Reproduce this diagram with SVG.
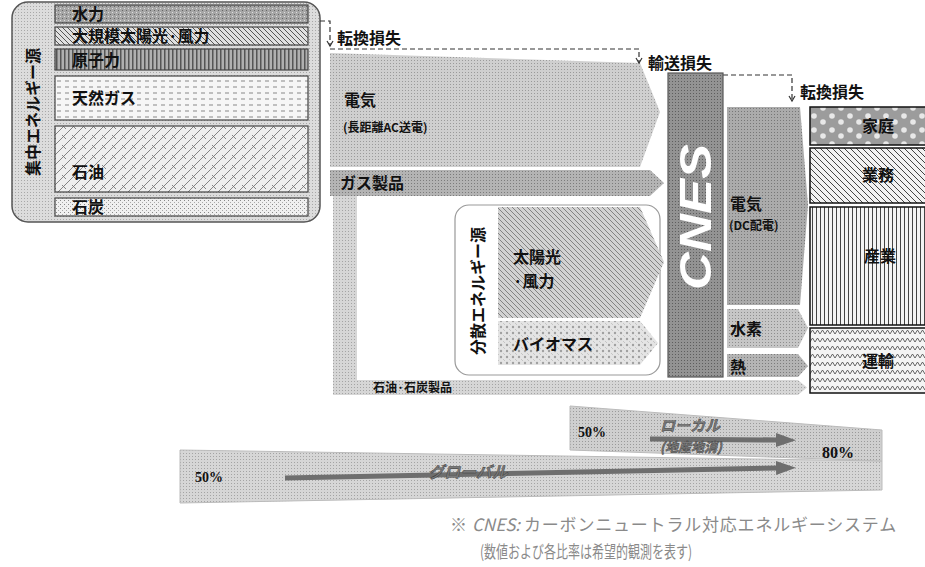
<svg xmlns="http://www.w3.org/2000/svg" width="925" height="567" viewBox="0 0 925 567">
<style>
.lbl{font-family:"Noto Sans CJK JP","Liberation Sans",sans-serif;font-size:16px;font-weight:bold;fill:#111;}
.sm{font-family:"Noto Sans CJK JP","Liberation Sans",sans-serif;font-size:12px;font-weight:bold;fill:#111;}
.bar{stroke:#444;stroke-width:1.2;}
.dash{fill:none;stroke:#333;stroke-width:1.2;stroke-dasharray:5 3;}
.pct{font-family:"Liberation Serif",serif;font-weight:bold;fill:#111;}
.ital{font-family:"Noto Sans CJK JP","Liberation Sans",sans-serif;font-style:italic;font-weight:bold;fill:#7a7a7a;stroke:#333;stroke-width:0.4;}
.foot{font-family:"Noto Sans CJK JP","Liberation Sans",sans-serif;font-size:17px;fill:#8a8a8a;}
</style>
<defs>
<pattern id="htL" width="3" height="3" patternUnits="userSpaceOnUse"><rect width="3" height="3" fill="#dcdcdc"/><rect width="1" height="1" fill="#a8a8a8"/></pattern>
<pattern id="htAC" width="3" height="3" patternUnits="userSpaceOnUse"><rect width="3" height="3" fill="#cfcfcf"/><rect width="1" height="1" fill="#9a9a9a"/></pattern>
<pattern id="htG" width="3" height="3" patternUnits="userSpaceOnUse"><rect width="3" height="3" fill="#b4b4b4"/><rect width="1" height="1" fill="#7c7c7c"/></pattern>
<pattern id="htC" width="3" height="3" patternUnits="userSpaceOnUse"><rect width="3" height="3" fill="#939393"/><rect width="1" height="1" fill="#5e5e5e"/></pattern>
<pattern id="htDC" width="3" height="3" patternUnits="userSpaceOnUse"><rect width="3" height="3" fill="#ababab"/><rect width="1" height="1" fill="#777"/></pattern>
<pattern id="htH" width="3" height="3" patternUnits="userSpaceOnUse"><rect width="3" height="3" fill="#c6c6c6"/><rect width="1" height="1" fill="#8e8e8e"/></pattern>
<pattern id="htB" width="3" height="3" patternUnits="userSpaceOnUse"><rect width="3" height="3" fill="#d6d6d6"/><rect width="1" height="1" fill="#a4a4a4"/></pattern>
<pattern id="hydro" width="4" height="4" patternUnits="userSpaceOnUse"><rect width="4" height="4" fill="#a6a6a6"/><rect width="1" height="1" fill="#dedede"/><rect x="2" y="2" width="1" height="1" fill="#666"/></pattern>
<pattern id="hatchBk" width="5" height="5" patternUnits="userSpaceOnUse"><rect width="5" height="5" fill="#e0e0e0"/><path d="M0,0 L5,5 M-1,4 L1,6 M4,-1 L6,1" stroke="#555" stroke-width="1"/></pattern>
<pattern id="vert" width="4" height="4" patternUnits="userSpaceOnUse"><rect width="4" height="4" fill="#b0b0b0"/><rect width="1.5" height="4" fill="#555"/></pattern>
<pattern id="gasP" width="8" height="6" patternUnits="userSpaceOnUse"><rect width="8" height="6" fill="#f6f6f6"/><path d="M1,3 L5,3" stroke="#888" stroke-width="1"/></pattern>
<pattern id="oilP" width="10" height="10" patternUnits="userSpaceOnUse"><rect width="10" height="10" fill="#eeeeee"/><path d="M0,10 L10,0 M-2,2 L2,-2 M8,12 L12,8 M2,5 L6,9" stroke="#777" stroke-width="0.9" fill="none"/></pattern>
<pattern id="coalP" width="4" height="4" patternUnits="userSpaceOnUse"><rect width="4" height="4" fill="#f0f0f0"/><rect width="1" height="1" fill="#888"/><rect x="2" y="2" width="1" height="1" fill="#aaa"/></pattern>
<pattern id="solarP" width="5" height="5" patternUnits="userSpaceOnUse"><rect width="5" height="5" fill="#d2d2d2"/><path d="M0,0 L5,5 M-1,4 L1,6 M4,-1 L6,1" stroke="#7a7a7a" stroke-width="0.9"/></pattern>
<pattern id="bioP" width="6" height="6" patternUnits="userSpaceOnUse"><rect width="6" height="6" fill="#e4e4e4"/><circle cx="3" cy="3" r="1.2" fill="#a0a0a0"/><circle cx="0" cy="0" r="1" fill="#bbb"/><circle cx="6" cy="6" r="1" fill="#bbb"/></pattern>
<pattern id="homeP" width="18" height="14" patternUnits="userSpaceOnUse"><rect width="18" height="14" fill="#9c9c9c"/><circle cx="4" cy="4" r="2.8" fill="#e8e8e8"/><circle cx="13" cy="10" r="2.8" fill="#e8e8e8"/></pattern>
<pattern id="bizP" width="6" height="6" patternUnits="userSpaceOnUse"><rect width="6" height="6" fill="#f2f2f2"/><path d="M0,0 L6,6 M-1,5 L1,7 M5,-1 L7,1" stroke="#444" stroke-width="1"/></pattern>
<pattern id="indP" width="4" height="4" patternUnits="userSpaceOnUse"><rect width="4" height="4" fill="#f4f4f4"/><rect width="1" height="4" fill="#444"/></pattern>
<pattern id="trP" width="10" height="8" patternUnits="userSpaceOnUse"><rect width="10" height="8" fill="#f4f4f4"/><path d="M0,6 L2.5,2 L5,6 L7.5,2 L10,6" stroke="#555" stroke-width="0.9" fill="none"/></pattern>
<marker id="vh" markerWidth="8" markerHeight="8" refX="6" refY="4" orient="auto" markerUnits="userSpaceOnUse"><path d="M1,1 L6,4 L1,7" fill="none" stroke="#333" stroke-width="1.2"/></marker>
<marker id="bigh" markerWidth="22" markerHeight="16" refX="2" refY="8" orient="auto" markerUnits="userSpaceOnUse"><path d="M0,1 L20,8 L0,15 Z" fill="#6e6e6e"/></marker>
</defs>
<rect width="925" height="567" fill="#ffffff"/>

<g id="central-sources">
<rect x="12" y="2" width="308" height="220" rx="16" fill="url(#htL)" stroke="#555" stroke-width="1.5"/>
<text class="lbl" transform="translate(39,112) rotate(-90)" text-anchor="middle">集中エネルギー源</text>
</g>
<g id="hydro-node"><rect class="bar" x="55" y="5" width="253" height="18" fill="url(#hydro)"/><text class="lbl" x="72" y="20">水力</text></g>
<g id="solar-wind-large"><rect class="bar" x="55" y="27" width="253" height="18" fill="url(#hatchBk)"/><text class="lbl" x="72" y="42">大規模太陽光·風力</text></g>
<g id="nuclear"><rect class="bar" x="55" y="49" width="253" height="21" fill="url(#vert)"/><text class="lbl" x="72" y="66">原子力</text></g>
<g id="natural-gas"><rect class="bar" x="55" y="76" width="253" height="44" fill="url(#gasP)"/><text class="lbl" x="72" y="104">天然ガス</text></g>
<g id="oil"><rect class="bar" x="55" y="126" width="253" height="66" fill="url(#oilP)"/><text class="lbl" x="72" y="178">石油</text></g>
<g id="coal"><rect class="bar" x="55" y="198" width="253" height="18" fill="url(#coalP)"/><text class="lbl" x="72" y="213">石炭</text></g>

<g id="connectors">
<path id="ac-electricity" d="M330,53 L640,63 L660,112 L640,167 L330,167 Z" fill="url(#htAC)"/>
<path id="gas-products" d="M330,170 L650,170 L664,183 L650,196 L330,196 Z" fill="url(#htG)"/>
<path id="oil-coal-products" d="M333,196 L357,196 L357,380 L798,380 L807,387.5 L798,395 L333,395 Z" fill="url(#htB)"/>
<path id="dc-electricity" d="M727,107 L800,107 L808,205 L800,305 L727,305 Z" fill="url(#htDC)"/>
<path id="hydrogen" d="M727,309 L798,309 L808,328 L798,348 L727,348 Z" fill="url(#htH)"/>
<path id="heat" d="M727,354 L798,354 L808,366 L798,377 L727,377 Z" fill="url(#htG)"/>
<path class="dash" d="M320,21 L330,21 L330,46" marker-end="url(#vh)"/>
<path class="dash" d="M330,49 L639,49 L639,63" marker-end="url(#vh)"/>
<path class="dash" d="M723,75 L792,75 L792,101" marker-end="url(#vh)"/>
<text class="lbl" x="337" y="44">転換損失</text>
<text class="lbl" x="648" y="69">輸送損失</text>
<text class="lbl" x="800" y="98">転換損失</text>
<text class="lbl" x="344" y="106" font-size="17">電気</text>
<text class="sm" x="343" y="132">(長距離AC送電)</text>
<text class="lbl" x="340" y="189" fill="#222">ガス製品</text>
<text class="sm" x="373" y="392" font-size="13">石油·石炭製品</text>
<text class="lbl" x="730" y="210">電気</text>
<text class="sm" x="729" y="230">(DC配電)</text>
<text class="lbl" x="730" y="335">水素</text>
<text class="lbl" x="730" y="373">熱</text>
</g>

<g id="distributed-sources">
<rect x="455" y="205" width="205" height="170" rx="14" fill="#ffffff" stroke="#999" stroke-width="1.2"/>
<text class="lbl" transform="translate(484,291) rotate(-90)" text-anchor="middle">分散エネルギー源</text>
</g>
<g id="solar-wind"><path d="M498,207 L640,207 L664,262 L640,318 L498,318 Z" fill="url(#solarP)"/><text class="lbl" x="513" y="263">太陽光</text><text class="lbl" x="513" y="287">·風力</text></g>
<g id="biomass"><path d="M498,321 L640,321 L658,343 L640,365 L498,365 Z" fill="url(#bioP)"/><text class="lbl" x="513" y="350">バイオマス</text></g>

<g id="cnes">
<rect x="668" y="73" width="55" height="304" fill="url(#htC)" stroke="#555" stroke-width="1.2"/>
<text transform="translate(711,217) rotate(-90)" text-anchor="middle" font-family="Liberation Sans, sans-serif" font-style="italic" font-weight="bold" font-size="44" fill="#ffffff" textLength="146" lengthAdjust="spacingAndGlyphs">CNES</text>
</g>

<g id="home"><rect x="810" y="107" width="125" height="38" fill="url(#homeP)" stroke="#111" stroke-width="1.5"/><text class="lbl" x="862" y="132">家庭</text></g>
<g id="business"><rect x="810" y="148" width="125" height="55" fill="url(#bizP)" stroke="#111" stroke-width="1.5"/><text class="lbl" x="862" y="181">業務</text></g>
<g id="industry"><rect x="810" y="207" width="125" height="118" fill="url(#indP)" stroke="#111" stroke-width="1.5"/><text class="lbl" x="864" y="262">産業</text></g>
<g id="transport"><rect x="810" y="328" width="125" height="65" fill="url(#trP)" stroke="#111" stroke-width="1.5"/><text class="lbl" x="862" y="367">運輸</text></g>

<g id="ratio-bands">
<path id="global-band" d="M180,450 L882,461 L882,490 L180,503 Z" fill="url(#htB)" stroke="#bbb" stroke-width="1"/>
<path id="local-band" d="M570,406 L882,430 L882,461 L570,450 Z" fill="url(#htAC)" stroke="#bbb" stroke-width="1"/>
<line x1="285" y1="478" x2="778" y2="468" stroke="#6e6e6e" stroke-width="5" marker-end="url(#bigh)"/>
<line x1="650" y1="439" x2="778" y2="440" stroke="#6e6e6e" stroke-width="5" marker-end="url(#bigh)"/>
<text class="pct" x="195" y="482" font-size="14">50%</text>
<text class="pct" x="578" y="437" font-size="14">50%</text>
<text class="pct" x="822" y="458" font-size="16">80%</text>
<text class="ital" x="428" y="478" font-size="16">グローバル</text>
<text class="ital" x="660" y="431" font-size="15">ローカル</text>
<text class="ital" x="660" y="452" font-size="13">(地産地消)</text>
</g>

<g id="footnote">
<text class="foot" x="450" y="531">※</text>
<text class="foot" x="472" y="531" font-style="italic">CNES:</text>
<text class="foot" x="524" y="531" letter-spacing="0.8">カーボンニュートラル対応エネルギーシステム</text>
<text class="foot" x="480" y="558" font-size="13" textLength="212" lengthAdjust="spacingAndGlyphs">(数値および各比率は希望的観測を表す)</text>
</g>
</svg>
